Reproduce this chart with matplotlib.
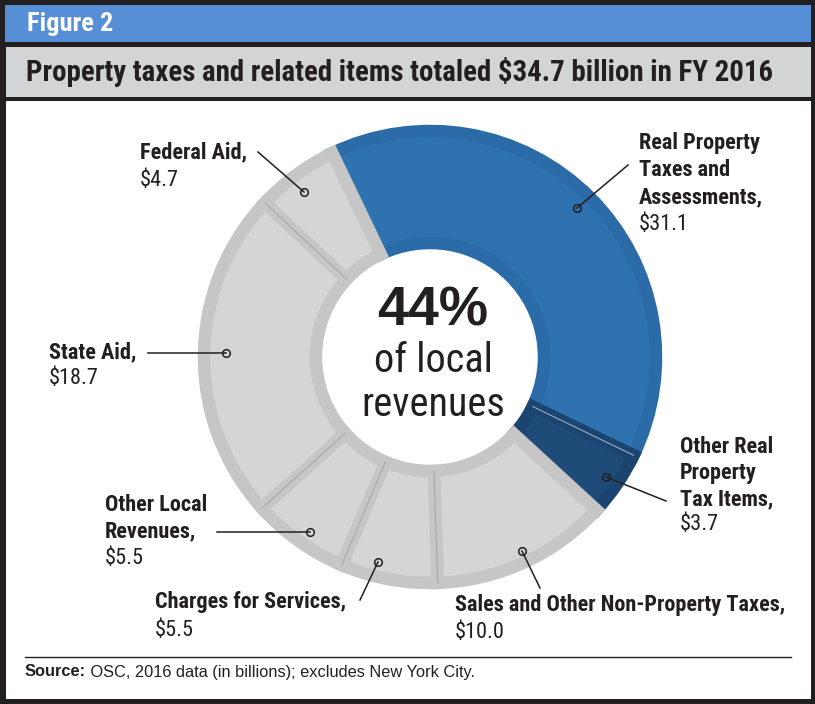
import matplotlib
matplotlib.use("Agg")
import matplotlib.pyplot as plt
from matplotlib.patches import Rectangle
import numpy as np

# ---------------- data ----------------
categories = ["Real Property Taxes and Assessments", "Other Real Property Tax Items",
              "Sales and Other Non-Property Taxes", "Charges for Services",
              "Other Local Revenues", "State Aid", "Federal Aid"]
values = [31.1, 3.7, 10.0, 5.5, 5.5, 18.7, 4.7]
label_lines = [["Real Property", "Taxes and", "Assessments,"],
               ["Other Real", "Property", "Tax Items,"],
               ["Sales and Other Non-Property Taxes,"],
               ["Charges for Services,"],
               ["Other Local", "Revenues,"],
               ["State Aid,"],
               ["Federal Aid,"]]
value_labels = ["$%.1f" % v for v in values]
fill_colors = ["#2e72b0", "#1e4b78", "#d5d5d5", "#d5d5d5", "#d5d5d5", "#d5d5d5", "#d5d5d5"]
rim_colors = ["#2b6ba8", "#1b4570", "#c6c6c6", "#c6c6c6", "#c6c6c6", "#c6c6c6", "#c6c6c6"]
fig_label = "Figure 2"
title = "Property taxes and related items totaled $34.7 billion in FY 2016"
center_big = "44%"
center_small = ["of local", "revenues"]
source_bold = "Source:"
source_text = " OSC, 2016 data (in billions); excludes New York City."

# ---------------- layout helpers ----------------
W, H = 815, 704
NARROW = ["Roboto Condensed", "Archivo Narrow", "Liberation Sans", "DejaVu Sans"]
WIDE = ["Liberation Sans", "DejaVu Sans"]
INK = "#231f20"


def Y(py):
    return H - py


fig = plt.figure(figsize=(W / 100, H / 100), dpi=100, facecolor=INK)
ax = fig.add_axes([0, 0, 1, 1])

# ---------------- donut ----------------
cx, cy = 430, Y(357)
R, w = 226, 112
start = 115.6
wedges, _ = ax.pie(values, colors=fill_colors, startangle=start, counterclock=False,
                   center=(cx, cy), radius=R, frame=True,
                   wedgeprops=dict(width=w, edgecolor="none", linewidth=0))
ax.set_xlim(0, W)
ax.set_ylim(0, H)
ax.axis("off")

# frame boxes (drawn below the donut)
ax.add_patch(Rectangle((5, Y(42)), 806, 37, facecolor="#568fd6", edgecolor="none", zorder=0))
ax.add_patch(Rectangle((6, Y(97)), 805, 50, facecolor="#d3d4d6", edgecolor="none", zorder=0))
ax.add_patch(Rectangle((6, Y(699)), 805, 598, facecolor="white", edgecolor="none", zorder=0))

for wdg, rc in zip(wedges, rim_colors):
    wdg.set_edgecolor(rc)
    wdg.set_linewidth(9)
    wdg.set_clip_path(wdg)

# separators between wedges
cum = np.cumsum([0] + values)
total = cum[-1]
sep_colors = [None, "#a9b9c9", None, "#a3a3a3", "#a3a3a3", "#a3a3a3", "#a3a3a3"]
for i in range(1, len(values)):
    c = sep_colors[i]
    if c is None:
        continue
    ang = np.deg2rad(start - 360 * cum[i] / total)
    r0, r1 = R - w, R
    ax.plot([cx + r0 * np.cos(ang), cx + r1 * np.cos(ang)],
            [cy + r0 * np.sin(ang), cy + r1 * np.sin(ang)], color=c, lw=0.7)

ax.text(27, Y(24), fig_label, color="white", fontsize=19, fontweight="bold",
        family=NARROW, va="center", ha="left")
ax.text(26, Y(72), title, color=INK, fontsize=20.8, fontweight="bold",
        family=NARROW, va="center", ha="left")

# center text
ax.text(cx + 3, Y(312), center_big, fontsize=40, fontweight="bold", family=WIDE,
        color=INK, ha="center", va="center")
ax.text(cx + 3, Y(360), center_small[0], fontsize=29, family=NARROW,
        color=INK, ha="center", va="center")
ax.text(cx + 3, Y(404), center_small[1], fontsize=29, family=NARROW,
        color=INK, ha="center", va="center")

# ---------------- labels ----------------
# (text x, first line center y, line spacing, leader start, leader end)
label_pos = [
    (639, 143, 27, (628, 165), (577, 208)),
    (680, 447, 26, (666, 501), (606, 477)),
    (455, 605, 27, (540, 588), (522, 551)),
    (155, 602, 28, (360, 600), (378, 562)),
    (105, 505, 26.5, (217, 532), (310, 532)),
    (49, 352, 27, (148, 353), (226, 353)),
    (140, 152, 28, (258, 152), (304, 192)),
]
for lines, vl, (tx, ty, dy, p0, p1) in zip(label_lines, value_labels, label_pos):
    for k, ln in enumerate(lines):
        ax.text(tx, Y(ty + k * dy), ln, fontsize=16, fontweight="bold", family=NARROW,
                color=INK, ha="left", va="center")
    ax.text(tx, Y(ty + len(lines) * dy), vl, fontsize=16, family=NARROW,
            color=INK, ha="left", va="center")
    ax.plot([p0[0], p1[0]], [Y(p0[1]), Y(p1[1])], color=INK, lw=1.1)
    ax.plot([p1[0]], [Y(p1[1])], marker="o", ms=5.5, mfc="none", mec=INK, mew=1.1)

# ---------------- source ----------------
ax.plot([25, 791], [Y(657), Y(657)], color=INK, lw=1.0)
t = ax.text(25, Y(672), source_bold, fontsize=11.8, fontweight="bold", family=WIDE,
            color=INK, ha="left", va="center")
ax.annotate(source_text, xy=(1, 0.5), xycoords=t, fontsize=11.8, family=WIDE,
            color=INK, ha="left", va="center")

fig.savefig("out.png", dpi=100, facecolor=fig.get_facecolor())
